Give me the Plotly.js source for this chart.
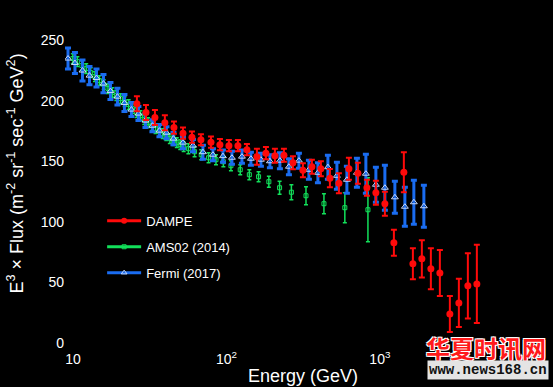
<!DOCTYPE html>
<html><head><meta charset="utf-8">
<script src="https://cdn.plot.ly/plotly-3.0.1.min.js"></script>
<style>html,body{margin:0;padding:0;background:#000;} #chart{width:553px;height:387px;}</style>
</head><body><div id="chart"></div>
<script>
// DAMPE (2017)
const dampeE = [26.1, 29.9, 34.2, 39.7, 45.5, 52.1, 59.6, 68.2, 79.3, 90.7, 103.8, 118.8, 136.0, 158.0, 180.9, 207.0, 237.0, 271.3, 315.1, 360.6, 412.7, 472.4, 540.8, 628.2, 719.0, 823.0, 941.7, 1078, 1234, 1433, 1641, 1877, 2149, 2460, 2858, 3271, 3744, 4285];
const dampeF = [197.8, 190.4, 186.3, 182.1, 178.0, 173.4, 170.1, 168.0, 166.0, 163.9, 163.1, 163.1, 159.8, 154.0, 156.9, 154.8, 155.2, 149.0, 142.8, 145.7, 144.0, 136.2, 132.0, 144.0, 140.3, 128.3, 124.2, 115.1, 82.8, 141.1, 65.4, 69.5, 61.3, 57.9, 24.0, 33.1, 47.2, 48.8];
const dampeErr = [6.2, 6.2, 6.2, 6.2, 5.0, 4.6, 4.6, 4.6, 4.6, 4.6, 4.6, 4.6, 4.6, 6.6, 5.0, 5.8, 5.4, 5.4, 5.8, 5.8, 6.2, 7.5, 8.3, 9.1, 8.7, 6.6, 9.9, 9.9, 10.8, 16.6, 12.8, 15.3, 17.0, 19.0, 14.9, 19.9, 26.9, 32.3];

// AMS02 (2014)
const amsE = [9.98, 10.68, 11.42, 12.2, 13.03, 13.91, 14.86, 15.86, 16.91, 18.02, 19.18, 20.41, 21.70, 23.06, 24.48, 25.97, 27.53, 29.16, 30.87, 32.67, 34.53, 36.45, 38.46, 40.58, 42.79, 45.10, 47.51, 50.02, 52.64, 56.5, 62, 68.5, 76.5, 85.5, 95.5, 107, 123, 141, 162, 189, 222, 265, 330, 432, 591, 836];
const amsF = [235.1, 232.6, 229.3, 226.8, 223.5, 220.2, 216.9, 213.6, 210.3, 207.0, 204.5, 202.0, 199.5, 197.0, 193.7, 190.4, 187.9, 184.6, 182.1, 179.6, 177.1, 174.7, 173.0, 171.4, 168.9, 167.2, 165.6, 163.9, 162.2, 160.6, 158.1, 155.6, 153.1, 151.5, 149.8, 146.5, 143.2, 139.1, 137.4, 133.3, 128.3, 124.6, 121.7, 115.1, 111.8, 110.1];
const amsErr = [4.0, 4.0, 4.0, 4.0, 4.0, 4.0, 4.0, 4.0, 4.0, 4.0, 4.0, 4.0, 4.0, 4.0, 4.0, 4.0, 4.0, 4.0, 4.0, 4.0, 4.0, 4.0, 4.0, 4.0, 4.0, 4.0, 4.0, 4.0, 4.0, 4.1, 4.1, 4.1, 4.1, 4.1, 4.1, 4.1, 4.1, 4.1, 4.1, 4.5, 5.4, 6.2, 7.5, 8.3, 12.4, 26.5];

// Fermi (2017)
const fermiE = [9.28, 10.30, 11.53, 12.81, 14.23, 15.80, 17.55, 19.49, 21.65, 24.05, 26.71, 29.67, 32.95, 36.60, 40.65, 45.15, 52.07, 60.51, 70.3, 81.7, 94.9, 108.6, 126.2, 144.4, 167.8, 192.0, 223.1, 255.4, 296.7, 344.7, 394.6, 458.4, 524.8, 609.6, 708.6, 810.4, 941.7, 1078, 1252, 1455, 1665, 1935];
const fermiF = [235.1, 231.4, 225.2, 221.0, 219.0, 214.4, 208.2, 203.6, 198.3, 192.9, 189.6, 183.8, 179.6, 175.5, 173.8, 168.9, 165.6, 163.1, 157.7, 155.6, 154.4, 153.1, 154.0, 152.3, 151.5, 150.2, 150.7, 145.7, 150.7, 143.2, 140.7, 145.3, 138.2, 134.9, 140.7, 139.9, 130.8, 128.3, 120.4, 112.6, 116.3, 113.0];
const fermiErr = [8.7, 8.7, 8.7, 7.5, 7.5, 7.5, 7.0, 7.0, 7.0, 5.8, 5.8, 5.8, 5.0, 5.0, 5.0, 5.0, 5.0, 5.0, 5.8, 5.0, 5.0, 5.4, 5.4, 5.4, 5.4, 5.4, 6.6, 6.6, 6.2, 7.9, 8.3, 9.9, 11.2, 11.2, 12.0, 16.1, 14.5, 18.6, 13.2, 16.1, 18.2, 17.4];

const seriesNames = ['DAMPE', 'AMS02 (2014)', 'Fermi (2017)'];
const xTickVals = [10, 100, 1000, 10000];
const xTickText = ['10', '10<sup>2</sup>', '10<sup>3</sup>', '10<sup>4</sup>'];
const yTickVals = [0, 50, 100, 150, 200, 250];

const RED = '#ff0a0a', GREEN = '#12e05a', BLUE = '#1a6cf0', TRI = '#c4d8ff';

const traces = [
  {type:'scatter', mode:'markers', x:amsE, y:amsF, showlegend:false, hoverinfo:'skip',
   error_y:{type:'data', array:amsErr, color:GREEN, thickness:1.5, width:2},
   marker:{symbol:'square-open', size:4, color:GREEN, line:{width:1}}},
  {type:'scatter', mode:'markers', x:fermiE, y:fermiF, showlegend:false, hoverinfo:'skip',
   error_y:{type:'data', array:fermiErr, color:BLUE, thickness:3, width:3},
   marker:{symbol:'triangle-up-open', size:6, color:TRI, line:{width:1}}},
  {type:'scatter', mode:'markers', x:dampeE, y:dampeF, showlegend:false, hoverinfo:'skip',
   error_y:{type:'data', array:dampeErr, color:RED, thickness:2, width:3},
   marker:{symbol:'circle', size:7, color:RED}},
  {type:'scatter', mode:'lines+markers', x:[null], y:[null], name:seriesNames[0], legendgroup:'a',
   line:{color:RED, width:3}, marker:{symbol:'circle', size:6, color:RED}},
  {type:'scatter', mode:'lines+markers', x:[null], y:[null], name:seriesNames[1], legendgroup:'b',
   line:{color:GREEN, width:3}, marker:{symbol:'square-open', size:4, color:GREEN}},
  {type:'scatter', mode:'lines+markers', x:[null], y:[null], name:seriesNames[2], legendgroup:'c',
   line:{color:BLUE, width:3}, marker:{symbol:'triangle-up-open', size:5, color:TRI}}
];

const layout = {
  width:553, height:387,
  margin:{l:65, r:12, t:26, b:38},
  paper_bgcolor:'#000', plot_bgcolor:'#000',
  font:{family:'Liberation Sans, Arial, sans-serif', color:'#ffffff', size:14},
  showlegend:true,
  legend:{x:0.078, y:0.443, xanchor:'left', yanchor:'top', bgcolor:'rgba(0,0,0,0)', itemwidth:34,
          font:{size:13, color:'#ffffff'}, traceorder:'grouped', tracegroupgap:6},
  xaxis:{type:'log', range:[0.948, 4.05], tickvals:xTickVals, ticktext:xTickText,
         showgrid:false, zeroline:false, showline:false, ticks:'',
         tickfont:{size:14, color:'#ffffff'},
         title:{text:'Energy (GeV)', font:{size:18, color:'#ffffff'}, standoff:3}},
  yaxis:{range:[-5, 262], tickvals:yTickVals, showgrid:false, zeroline:false, showline:false, ticks:'',
         tickfont:{size:14, color:'#ffffff'}},
  annotations:[
    {xref:'paper', yref:'paper', x:-0.103, y:0.543, xanchor:'center', yanchor:'middle', textangle:-90,
     showarrow:false, font:{size:18, color:'#ffffff'},
     text:'E<sup>3</sup> × Flux (m<sup>-2</sup> sr<sup>-1</sup> sec<sup>-1</sup> GeV<sup>2</sup>)'},
    {xref:'paper', yref:'paper', x:0.8845, y:0.006, xanchor:'center', yanchor:'middle', showarrow:false,
     font:{family:'Noto Sans CJK SC', size:24, color:'#ff1a1a', weight:'bold',
           shadow:'1px 1px 0 #fff, -1px -1px 0 #fff, 1px -1px 0 #fff, -1px 1px 0 #fff'},
     text:'华夏时讯网'},
    {xref:'paper', yref:'paper', x:0.8887, y:-0.065, xanchor:'center', yanchor:'middle', showarrow:false,
     bgcolor:'#e4e4e4', borderpad:1,
     font:{family:'Liberation Mono, monospace', size:14, color:'#111111', weight:'bold'},
     text:'www.news168.cn'}
  ]
};

Plotly.newPlot('chart', traces, layout, {displayModeBar:false, staticPlot:true});
</script>
</body></html>
